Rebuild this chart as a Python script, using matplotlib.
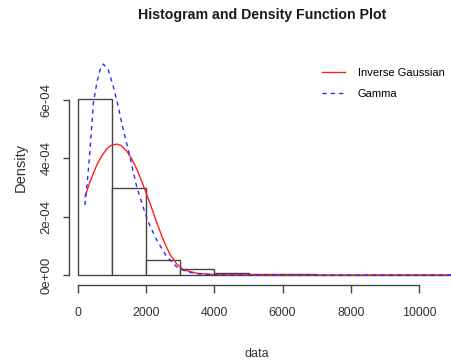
import matplotlib
matplotlib.use("Agg")
import matplotlib.pyplot as plt

# histogram (density scale), bin edges every 1000
bin_left = [0, 1000, 2000, 3000, 4000, 5000, 6000, 7000, 8000, 9000, 10000, 11000]
bin_density = [6.05e-4, 2.98e-4, 0.52e-4, 0.20e-4, 0.07e-4, 0.02e-4, 0.02e-4,
               0, 0, 0, 0, 0]

# fitted densities
ig_x = [205, 352, 548, 695, 842, 968, 1135, 1261, 1428, 1575, 1721, 1818, 1965,
        2111, 2308, 2501, 2698, 2894, 3088, 3481, 4067, 6000, 8000, 11500]
ig_y = [2.68e-4, 3.20e-4, 3.76e-4, 4.08e-4, 4.32e-4, 4.44e-4, 4.49e-4, 4.44e-4,
        4.25e-4, 3.98e-4, 3.64e-4, 3.36e-4, 2.92e-4, 2.46e-4, 1.80e-4, 1.20e-4,
        0.70e-4, 0.38e-4, 0.18e-4, 0.06e-4, 0.01e-4, 0, 0, 0]

gam_x = [205, 264, 308, 352, 449, 548, 645, 742, 889, 1035, 1182, 1328, 1475,
         1575, 1721, 1965, 2111, 2308, 2601, 2894, 3188, 3578, 4067, 6000, 8000, 11500]
gam_y = [2.40e-4, 3.09e-4, 3.67e-4, 4.29e-4, 5.89e-4, 6.57e-4, 7.03e-4, 7.23e-4,
         7.03e-4, 6.46e-4, 5.77e-4, 4.97e-4, 4.29e-4, 3.77e-4, 3.03e-4, 2.13e-4,
         1.68e-4, 1.20e-4, 0.63e-4, 0.28e-4, 0.11e-4, 0.03e-4, 0, 0, 0, 0]

x_ticks = [0, 2000, 4000, 6000, 8000, 10000]
y_ticks = [0, 2e-4, 4e-4, 6e-4]
y_tick_labels = ["0e+00", "2e-04", "4e-04", "6e-04"]

font = ["Liberation Sans", "DejaVu Sans"]

W, H = 451, 363
fig = plt.figure(figsize=(W / 100, H / 100), dpi=100)
# plot region placed in pixels: left 69, right 451, bottom 285, top 15
ax = fig.add_axes([69 / W, (H - 285) / H, (W - 69) / W, (285 - 15) / H])

ax.bar(bin_left, bin_density, width=1000, align="edge", facecolor="white",
       edgecolor="#444444", linewidth=1.0, zorder=1)
ax.plot(ig_x, ig_y, color="#ff2020", linewidth=1.0, label="Inverse Gaussian", zorder=3)
ax.plot(gam_x, gam_y, color="#2a2aff", linewidth=1.0, linestyle=(0, (3, 3)),
        label="Gamma", zorder=3)

ax.set_xlim(-264, 10938)
ax.set_ylim(-0.343e-4, 8.913e-4)

for s in ["top", "right"]:
    ax.spines[s].set_visible(False)
ax.spines["left"].set_bounds(0, 6e-4)
ax.spines["bottom"].set_bounds(0, 10000)
for s in ["left", "bottom"]:
    ax.spines[s].set_color("#444444")
    ax.spines[s].set_linewidth(1.0)

ax.set_xticks(x_ticks)
ax.set_xticklabels([str(v) for v in x_ticks], family=font, fontsize=8.9)
ax.set_yticks(y_ticks)
ax.set_yticklabels(y_tick_labels, family=font, fontsize=9.5, rotation=90,
                   va="center")
ax.tick_params(axis="x", direction="out", length=5.5, width=1, color="#444444",
               pad=10, labelcolor="#333333")
ax.tick_params(axis="y", direction="out", length=4, width=1, color="#444444",
               pad=8, labelcolor="#333333")

fig.text(262 / W, 1 - 15 / H, "Histogram and Density Function Plot",
         ha="center", va="center", family=font, fontsize=10.2,
         fontweight="bold", color="#1a1a1a")
fig.text(21 / W, 1 - 167 / H, "Density", rotation=90, ha="center", va="center",
         family=font, fontsize=10.5, color="#333333")
fig.text(257 / W, 1 - 354 / H, "data", ha="center", va="center",
         family=font, fontsize=9, color="#333333")

ax.legend(loc="upper left", bbox_to_anchor=(322 / W, 1 - 68 / H),
          bbox_transform=fig.transFigure, frameon=False, borderpad=0,
          borderaxespad=0, handlelength=2.05, handletextpad=1.15,
          labelspacing=1.0, prop={"family": font, "size": 8})

fig.savefig("out.png", dpi=100)
